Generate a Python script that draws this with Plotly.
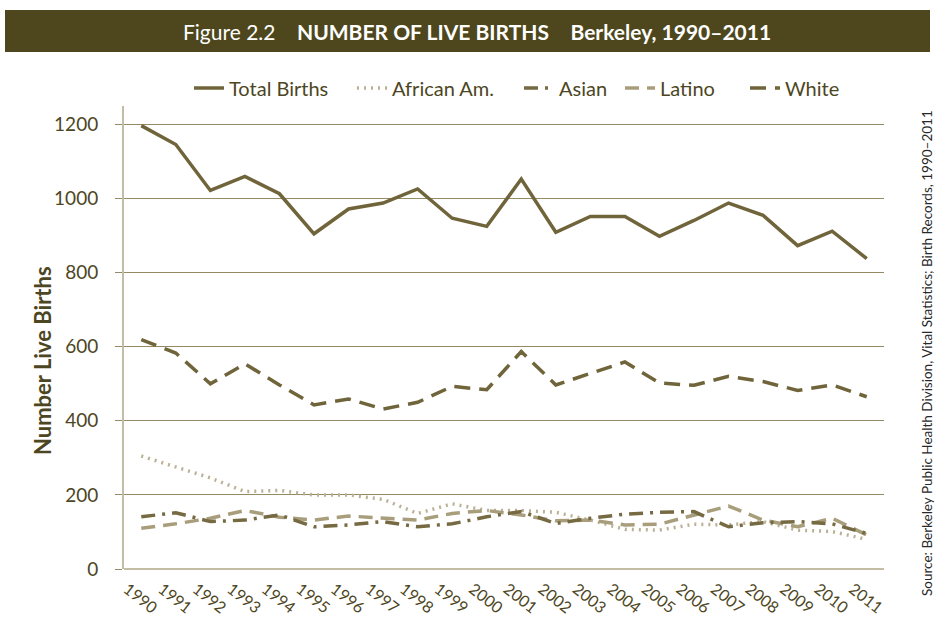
import plotly.graph_objects as go

# Berkeley live births by race/ethnicity, 1990-2011
years = list(range(1990, 2012))
total_births = [1197, 1146, 1022, 1060, 1013, 905, 972, 988, 1026, 947, 925,
                1053, 909, 952, 952, 898, 941, 988, 955, 873, 912, 838]
african_am = [305, 276, 246, 209, 212, 200, 200, 188, 150, 176, 158,
              158, 153, 132, 107, 105, 121, 119, 128, 105, 101, 80]
asian = [141, 152, 128, 132, 146, 114, 119, 128, 114, 122, 141,
         155, 123, 137, 148, 153, 155, 114, 125, 128, 122, 96]
latino = [110, 122, 137, 158, 140, 132, 143, 138, 132, 150, 158,
          146, 130, 132, 119, 121, 146, 170, 132, 114, 137, 92]
white = [619, 583, 500, 554, 497, 443, 459, 432, 450, 493, 484,
         587, 497, 529, 559, 502, 496, 520, 506, 482, 497, 465]
y_ticks = [0, 200, 400, 600, 800, 1000, 1200]

DARK = "rgb(112,100,58)"
ASIAN_C = "rgb(118,106,66)"
LIGHT = "rgb(168,158,124)"
DOTS = "rgb(186,177,148)"
TEXT = "rgb(77,70,35)"
BAR = "rgb(78,71,30)"
FONT = "Lato"

fig = go.Figure()
fig.add_trace(go.Scatter(x=years, y=african_am, name="African Am.", mode="lines",
                         legendrank=2, legendwidth=122,
                         line=dict(color=DOTS, width=3.5, dash="2px,5px")))
fig.add_trace(go.Scatter(x=years, y=latino, name="Latino", mode="lines",
                         legendrank=4, legendwidth=80,
                         line=dict(color=LIGHT, width=3.5, dash="14px,8px")))
fig.add_trace(go.Scatter(x=years, y=asian, name="Asian", mode="lines",
                         legendrank=3, legendwidth=56,
                         line=dict(color=ASIAN_C, width=3.5, dash="14px,7px,3px,7px")))
fig.add_trace(go.Scatter(x=years, y=white, name="White", mode="lines",
                         legendrank=5, legendwidth=60,
                         line=dict(color=DARK, width=3.5, dash="16px,9px")))
fig.add_trace(go.Scatter(x=years, y=total_births, name="Total Births", mode="lines",
                         legendrank=1, legendwidth=118,
                         line=dict(color=DARK, width=3.5)))

L, R, T, B = 124, 51, 106, 52
W, H = 935, 621
pw, ph = W - L - R, H - T - B


def px_x(px):
    return (px - L) / pw


def px_y(py):
    return (H - B - py) / ph


fig.update_layout(
    width=W, height=H,
    margin=dict(l=L, r=R, t=T, b=B, pad=0, autoexpand=False),
    paper_bgcolor="white", plot_bgcolor="white",
    font=dict(family=FONT, color=TEXT),
    showlegend=True,
    legend=dict(orientation="h", x=px_x(189), xanchor="left", y=px_y(88),
                yanchor="middle", font=dict(size=20, color=TEXT),
                bgcolor="rgba(0,0,0,0)", itemwidth=30),
    xaxis=dict(range=[1989.5, 2011.5], tickmode="array", tickvals=years,
               ticktext=[str(y) for y in years], tickangle=38,
               tickfont=dict(size=16, color=TEXT), showgrid=False,
               zeroline=False, showline=False, ticks="", automargin=False,
               ticklabelshift=-14, ticklabelstandoff=7),
    yaxis=dict(range=[0, 1250], tickmode="array", tickvals=y_ticks,
               tickfont=dict(size=19, color=TEXT), showgrid=True,
               gridcolor="rgb(150,138,100)", gridwidth=1.3,
               zeroline=True, zerolinecolor="rgb(196,189,165)", zerolinewidth=2,
               showline=True, linecolor="rgb(196,189,165)", linewidth=2,
               ticks="outside", ticklen=7, tickcolor="rgb(150,138,100)",
               ticklabelstandoff=13, automargin=False),
)

# y-axis title
fig.add_annotation(xref="paper", yref="paper", x=px_x(42), y=px_y(361),
                   xanchor="center", yanchor="middle", showarrow=False,
                   textangle=-90, text="<b>Number Live Births</b>",
                   font=dict(family=FONT, size=22, color=TEXT))

# header band
fig.add_shape(type="rect", xref="paper", yref="paper",
              x0=px_x(5), x1=px_x(930), y0=px_y(52), y1=px_y(10),
              fillcolor=BAR, line=dict(width=0), layer="below")
fig.add_annotation(xref="paper", yref="paper", x=px_x(477), y=px_y(31),
                   xanchor="center", yanchor="middle", showarrow=False,
                   text="Figure 2.2&nbsp;&nbsp;&nbsp;&nbsp;<b>NUMBER OF LIVE BIRTHS</b>"
                        "&nbsp;&nbsp;&nbsp;&nbsp;<b>Berkeley, 1990–2011</b>",
                   font=dict(family=FONT, size=21, color="white"))

# source note
fig.add_annotation(xref="paper", yref="paper", x=px_x(927), y=px_y(353),
                   xanchor="center", yanchor="middle", showarrow=False,
                   textangle=-90,
                   text="Source: Berkeley Public Health Division, Vital Statistics; "
                        "Birth Records, 1990–2011",
                   font=dict(family=FONT, size=13.5, color="rgb(40,40,40)"))

fig.write_html("out.html")
